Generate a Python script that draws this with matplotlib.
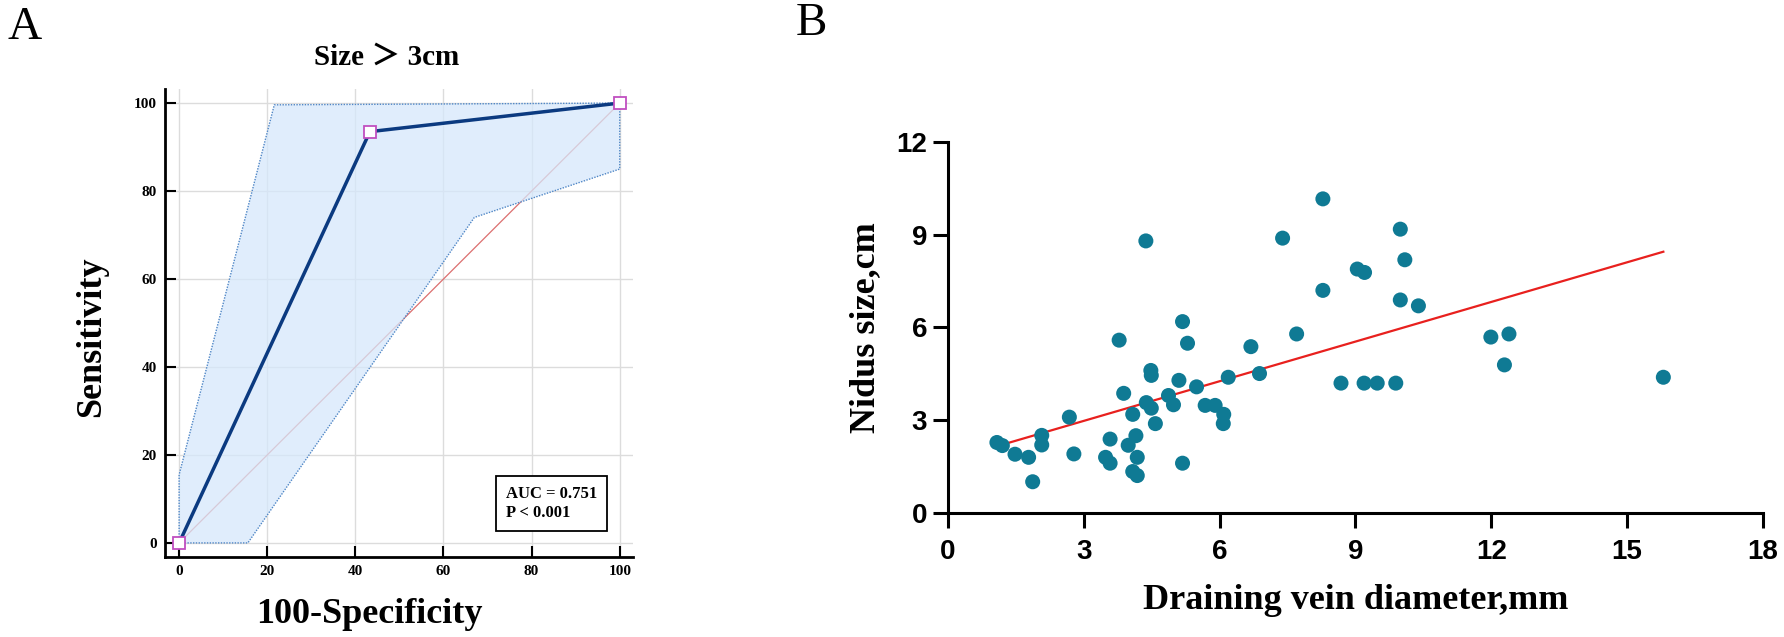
import numpy as np
import matplotlib
matplotlib.use("Agg")
import matplotlib.pyplot as plt

# ---- Panel A: ROC curve (Size > 3cm) ----
roc_x = [0, 43.3, 100]
roc_y = [0, 93.5, 100]

# confidence band boundaries
upper_x = [0, 0, 21.6, 100]
upper_y = [0, 15.5, 99.6, 100]
lower_x = [0, 15.6, 67, 100, 100]
lower_y = [0, 0, 74, 85, 100]

auc_text = "AUC = 0.751\nP < 0.001"
roc_ticks = [0, 20, 40, 60, 80, 100]

# ---- Panel B: scatter ----
vein_diam = [1.08, 1.20, 1.48, 1.78, 1.87, 2.07, 2.07, 2.68, 2.78, 3.48,
             3.58, 3.58, 3.78, 3.88, 3.98, 4.08, 4.15, 4.18, 4.08, 4.18,
             4.37, 4.38, 4.49, 4.48, 4.49, 4.58, 4.87, 4.98, 5.10, 5.18,
             5.29, 5.18, 5.49, 5.68, 5.90, 6.09, 6.08, 6.19, 6.69, 6.88,
             7.39, 7.70, 8.28, 8.28, 8.68, 9.04, 9.20, 9.19, 9.48, 9.89,
             9.99, 10.09, 9.99, 10.39, 11.99, 12.39, 12.29, 15.80]
nidus_size = [2.28, 2.18, 1.90, 1.80, 1.01, 2.51, 2.20, 3.10, 1.91, 1.80,
              1.61, 2.39, 5.59, 3.87, 2.19, 3.19, 2.50, 1.80, 1.34, 1.21,
              8.80, 3.57, 3.39, 4.61, 4.45, 2.89, 3.80, 3.50, 4.29, 6.19,
              5.49, 1.61, 4.08, 3.48, 3.48, 3.19, 2.89, 4.39, 5.38, 4.51,
              8.89, 5.79, 10.16, 7.20, 4.20, 7.89, 7.78, 4.20, 4.20, 4.20,
              9.18, 8.19, 6.89, 6.70, 5.69, 5.79, 4.79, 4.39]
x_ticks_b = [0, 3, 6, 9, 12, 15, 18]
y_ticks_b = [0, 3, 6, 9, 12]

SERIF = ["Liberation Serif", "DejaVu Serif"]
SANS = ["Liberation Sans", "DejaVu Sans"]

fig = plt.figure(figsize=(17.84, 6.37), dpi=100)

# ================= Panel A =================
ax1 = fig.add_axes([0.0925, 0.1256, 0.2623, 0.7347])
ax1.set_xlim(-3.2, 103)
ax1.set_ylim(-3.2, 103.2)

for t in roc_ticks:
    ax1.axvline(t, color="#dcdcdc", lw=1, zorder=0)
    ax1.axhline(t, color="#dcdcdc", lw=1, zorder=0)

# diagonal reference
ax1.plot([0, 100], [0, 100], color="#dc6f6f", lw=0.9, zorder=1)

# confidence band
band_x = upper_x + lower_x[::-1]
band_y = upper_y + lower_y[::-1]
ax1.fill(band_x, band_y, color="#d6e8fb", alpha=0.75, lw=0, zorder=2)
ax1.plot(upper_x, upper_y, color="#4f86c6", lw=1, ls=(0, (1, 1)), zorder=3)
ax1.plot(lower_x, lower_y, color="#4f86c6", lw=1, ls=(0, (1, 1)), zorder=3)

# ROC line + points
ax1.plot(roc_x, roc_y, color="#0b3a80", lw=2.5, zorder=4)
ax1.plot(roc_x, roc_y, ls="none", marker="s", ms=9, mfc="white",
         mec="#c04fc0", mew=1.3, zorder=5, clip_on=False)

ax1.text(74.2, 9.0, auc_text, ha="left", va="center", fontsize=12,
         fontweight="bold", family=SERIF, linespacing=1.2, zorder=6,
         bbox=dict(boxstyle="square,pad=0.6", fc="white", ec="black", lw=1.3))

for s in ["top", "right"]:
    ax1.spines[s].set_visible(False)
for s in ["left", "bottom"]:
    ax1.spines[s].set_linewidth(2)
ax1.set_xticks(roc_ticks)
ax1.set_yticks(roc_ticks)
ax1.tick_params(direction="in", length=8, width=1.5, pad=6)
for lab in ax1.get_xticklabels() + ax1.get_yticklabels():
    lab.set_fontfamily(SERIF)
    lab.set_fontweight("bold")
    lab.set_fontsize(11)

ax1.set_xlabel("100-Specificity", fontsize=26, fontweight="bold", family=SERIF)
ax1.set_ylabel("Sensitivity", fontsize=26, fontweight="bold", family=SERIF)
ax1.xaxis.set_label_coords(0.436, -0.122)
ax1.yaxis.set_label_coords(-0.156, 0.47)
ax1.xaxis.label.set_va("center")
ax1.yaxis.label.set_va("center")
ax1.text(0.473, 1.068, "Size ＞ 3cm", transform=ax1.transAxes, ha="center",
         va="center", fontsize=21, fontweight="bold",
         family=["Liberation Serif", "Noto Sans CJK SC"])

fig.text(0.014, 0.956, "A", fontsize=34, family=SERIF, ha="center", va="center")

# ================= Panel B =================
ax2 = fig.add_axes([0.5314, 0.1947, 0.4568, 0.5824])
ax2.set_xlim(0, 18)
ax2.set_ylim(0, 12)

xb = np.array(vein_diam)
yb = np.array(nidus_size)
slope, intercept = np.polyfit(xb, yb, 1)
line_x = np.array([xb.min(), xb.max()])
ax2.plot(line_x, slope * line_x + intercept, color="#e8201e", lw=1.6, zorder=2)
ax2.scatter(xb, yb, s=117, color="#0f7a94", edgecolors="none", zorder=3,
            clip_on=False)

for s in ["top", "right"]:
    ax2.spines[s].set_visible(False)
for s in ["left", "bottom"]:
    ax2.spines[s].set_linewidth(2.2)
ax2.set_xticks(x_ticks_b)
ax2.set_yticks(y_ticks_b)
ax2.tick_params(direction="out", length=11, width=2.2, pad=4)
ax2.tick_params(axis="x", pad=8)
for lab in ax2.get_xticklabels() + ax2.get_yticklabels():
    lab.set_fontfamily(SANS)
    lab.set_fontweight("bold")
    lab.set_fontsize(20)

ax2.set_xlabel("Draining vein diameter,mm", fontsize=26, fontweight="bold",
               family=SERIF)
ax2.set_ylabel("Nidus size,cm", fontsize=26, fontweight="bold", family=SERIF)
ax2.xaxis.set_label_coords(0.50, -0.235)
ax2.yaxis.set_label_coords(-0.101, 0.50)
ax2.xaxis.label.set_va("center")
ax2.yaxis.label.set_va("center")

fig.text(0.455, 0.962, "B", fontsize=34, family=SERIF, ha="center", va="center")

fig.savefig("out.png", dpi=100, facecolor="white")
